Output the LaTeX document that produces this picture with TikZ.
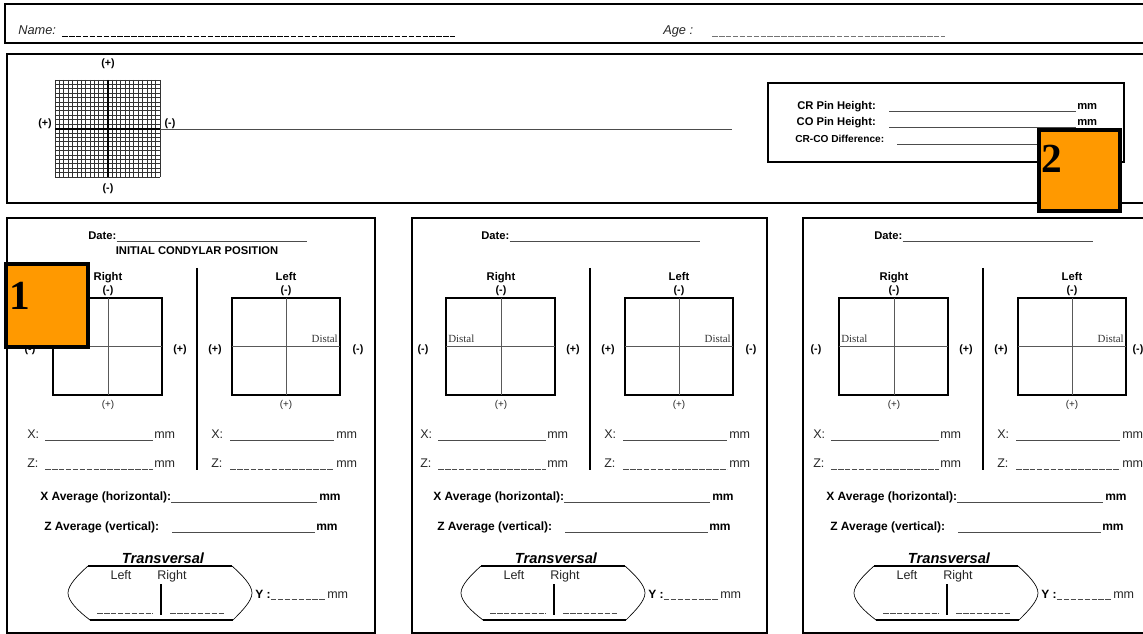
\documentclass[tikz,border=0pt]{standalone}
\usepackage{fontspec}
\setmainfont{Liberation Sans}
\newfontfamily\serifface{Liberation Serif}
\definecolor{orng}{HTML}{FF9900}
\begin{document}
\begin{tikzpicture}[x=0.75pt,y=-0.75pt,
  frame/.style={line width=1.6pt,black},
  thinframe/.style={line width=1.2pt,black},
  uline/.style={line width=0.6pt,black!70},
  dline/.style={line width=0.6pt,black!70,dash pattern=on 4.2pt off 1pt},
  crossl/.style={line width=0.6pt,black!65},
  gridl/.style={line width=0.55pt,black!80},
  bsm/.style={inner sep=0pt,font=\fontsize{8.4}{10}\selectfont\bfseries},
  pm/.style={inner sep=0pt,font=\fontsize{8}{9}\selectfont\bfseries},
  pmr/.style={inner sep=0pt,font=\fontsize{7.4}{8}\selectfont,black!85},
  rg/.style={inner sep=0pt,font=\fontsize{9.4}{11}\selectfont,black!85},
  avg/.style={inner sep=0pt,font=\fontsize{9}{11}\selectfont\bfseries},
  trv/.style={inner sep=0pt,font=\fontsize{11}{13}\selectfont\bfseries\itshape},
  dst/.style={inner sep=0pt,font=\serifface\fontsize{8.2}{9}\selectfont,black!80},
  hdr/.style={inner sep=0pt,font=\fontsize{9.6}{11}\selectfont\itshape,black!85},
  orangebox/.style={fill=orng,draw=black,line width=3pt},
  digit/.style={inner sep=0pt,font=\serifface\fontsize{31}{31}\selectfont\bfseries}
]
\useasboundingbox (0,0) rectangle (1143,634);

% ---------- header box ----------
\draw[line width=2pt] (1146,4) -- (5,4) -- (5,43) -- (1146,43);
\node[hdr,anchor=base west] (name) at (18,35) {Name:};
\draw[dline,black] (62,36) -- (455,36);
\node[hdr,anchor=base west] (age) at (663,35) {Age :};
\draw[dline,black!55] (712,36) -- (945,36);

% ---------- second box ----------
\draw[line width=2pt] (1146,54) -- (7,54) -- (7,203) -- (1146,203);
\foreach \i in {0,...,24} \draw[gridl] ({55+\i*4.375},80) -- ({55+\i*4.375},177);
\foreach \j in {0,...,22} \draw[gridl] (55,{80+\j*4.409}) -- (160,{80+\j*4.409});
\draw[line width=1.3pt] (108,80) -- (108,177);
\draw[line width=1.6pt] (55,129) -- (160,129);
\draw[line width=0.7pt,black!70] (160,129) -- (732,129);
\node[pm,anchor=base] (gtop) at (108,67) {(+)};
\node[pm,anchor=base] (gbot) at (108,192) {(-)};
\node[pm,anchor=base] (gleft) at (45,127) {(+)};
\node[pm,anchor=base] (gright) at (170,127) {(-)};

% CR box
\draw[line width=1.3pt] (768,83) rectangle (1124,162);
\node[bsm,anchor=base east] (cr) at (876,110) {CR Pin Height:};
\draw[uline] (889,111) -- (1076,111);
\node[bsm,anchor=base west] (crmm) at (1077,110) {mm};
\node[bsm,anchor=base east] (co) at (876,126) {CO Pin Height:};
\draw[uline] (889,127) -- (1076,127);
\node[bsm,anchor=base west] (comm) at (1077,126) {mm};
\node[inner sep=0pt,font=\fontsize{7.6}{9}\selectfont\bfseries,anchor=base west] (diff) at (795,143) {CR-CO Difference:};
\draw[uline] (897,144) -- (1060,144);

% ---------- panels ----------
\draw[frame] (7,218) rectangle (375,633);
\draw[frame] (412,218) rectangle (767,633);
\draw[frame] (1146,218) -- (803,218) -- (803,633) -- (1146,633);

\node[bsm,anchor=base] (icp) at (197,255) {INITIAL CONDYLAR POSITION};

\foreach \dx/\p/\lrx in {0/1/358,393/2/358,786/3/352}{
\begin{scope}[shift={(\dx,0)}]
  \node[bsm,anchor=base west] (date\p) at (88,240) {Date:};
  \draw[uline] (date\p.base east) ++(0,1) -- (307,241);
  % right side
  \node[bsm,anchor=base] (rt\p) at (108,281) {Right};
  \node[pm,anchor=base] (rtm\p) at (108,294) {(-)};
  \draw[thinframe] (53,298) rectangle (162,395);
  \draw[line width=1.8pt] (53,298) -- (162,298) (53,395) -- (162,395);
  \draw[crossl] (108,298) -- (108,395) (53,346) -- (162,346);
  \node[dst,anchor=base west] (dr\p) at (55,343) {Distal};
  \node[pm,anchor=base] (rl\p) at (30,353) {(-)};
  \node[pm,anchor=base] (rr\p) at (180,353) {(+)};
  \node[pmr,anchor=base] (rb\p) at (108,408) {(+)};
  % separator
  \draw[line width=1.5pt] (197,268) -- (197,470);
  % left side
  \node[bsm,anchor=base] (lt\p) at (286,281) {Left};
  \node[pm,anchor=base] (ltm\p) at (286,294) {(-)};
  \draw[thinframe] (232,298) rectangle (340,395);
  \draw[line width=1.8pt] (232,298) -- (340,298) (232,395) -- (340,395);
  \draw[crossl] (286,298) -- (286,395) (232,346) -- (340,346);
  \node[dst,anchor=base east] (dl\p) at (338,343) {Distal};
  \node[pm,anchor=base] (ll\p) at (215,353) {(+)};
  \node[pm,anchor=base] (lr\p) at (\lrx,353) {(-)};
  \node[pmr,anchor=base] (lb\p) at (286,408) {(+)};
  % X and Z
  \node[rg,anchor=base west] (xr\p) at (27,439) {X:};
  \draw[uline] (45,440) -- (153,440);
  \node[rg,anchor=base west] (xrm\p) at (154,439) {mm};
  \node[rg,anchor=base west] (xl\p) at (211,439) {X:};
  \draw[uline] (230,440) -- (334,440);
  \node[rg,anchor=base west] (xlm\p) at (336,439) {mm};
  \node[rg,anchor=base west] (zr\p) at (27,468) {Z:};
  \draw[dline] (45,469) -- (153,469);
  \node[rg,anchor=base west] (zrm\p) at (154,468) {mm};
  \node[rg,anchor=base west] (zl\p) at (211,468) {Z:};
  \draw[dline] (230,469) -- (334,469);
  \node[rg,anchor=base west] (zlm\p) at (336,468) {mm};
  % averages
  \node[avg,anchor=base west] (xa\p) at (40,501) {X Average (horizontal):};
  \draw[uline] (xa\p.base east) ++(0,1) -- (317,502);
  \node[avg,anchor=base west] (xam\p) at (319,501) {mm};
  \node[avg,anchor=base west] (za\p) at (44,531) {Z Average (vertical):};
  \draw[uline] (172,532) -- (315,532);
  \node[avg,anchor=base west] (zam\p) at (316,531) {mm};
  % transversal
  \node[trv,anchor=base] (tv\p) at (163,563) {Transversal};
  \draw[line width=1.5pt] (88,566) -- (232,566);
  \draw[line width=1.5pt] (90,620) -- (233,620);
  \draw[line width=0.5pt] (88,566) .. controls (78,575) and (68,585) .. (68,593) .. controls (68,601) and (78,611) .. (90,620);
  \draw[line width=0.5pt] (232,566) .. controls (242,575) and (252,585) .. (252,593) .. controls (252,601) and (242,611) .. (233,620);
  \node[rg,anchor=base] (tl\p) at (121,580) {Left};
  \node[rg,anchor=base] (tr\p) at (172,580) {Right};
  \draw[line width=1.5pt] (161,584) -- (161,615);
  \draw[dline] (97,613) -- (153,613);
  \draw[dline] (170,613) -- (225,613);
  \node[avg,anchor=base west] (yy\p) at (255,598) {Y :};
  \draw[dline] (yy\p.base east) ++(0,1) -- (326,599);
  \node[rg,anchor=base west] (yym\p) at (327,598) {mm};
\end{scope}
}

% ---------- orange markers ----------
\draw[orangebox] (6,264) rectangle (88,347);
\node[digit,anchor=base west] (one) at (9,310) {1};
\draw[orangebox] (1039,130) rectangle (1120,211);
\node[digit,anchor=base west] (two) at (1041,173) {2};
\end{tikzpicture}
\end{document}
